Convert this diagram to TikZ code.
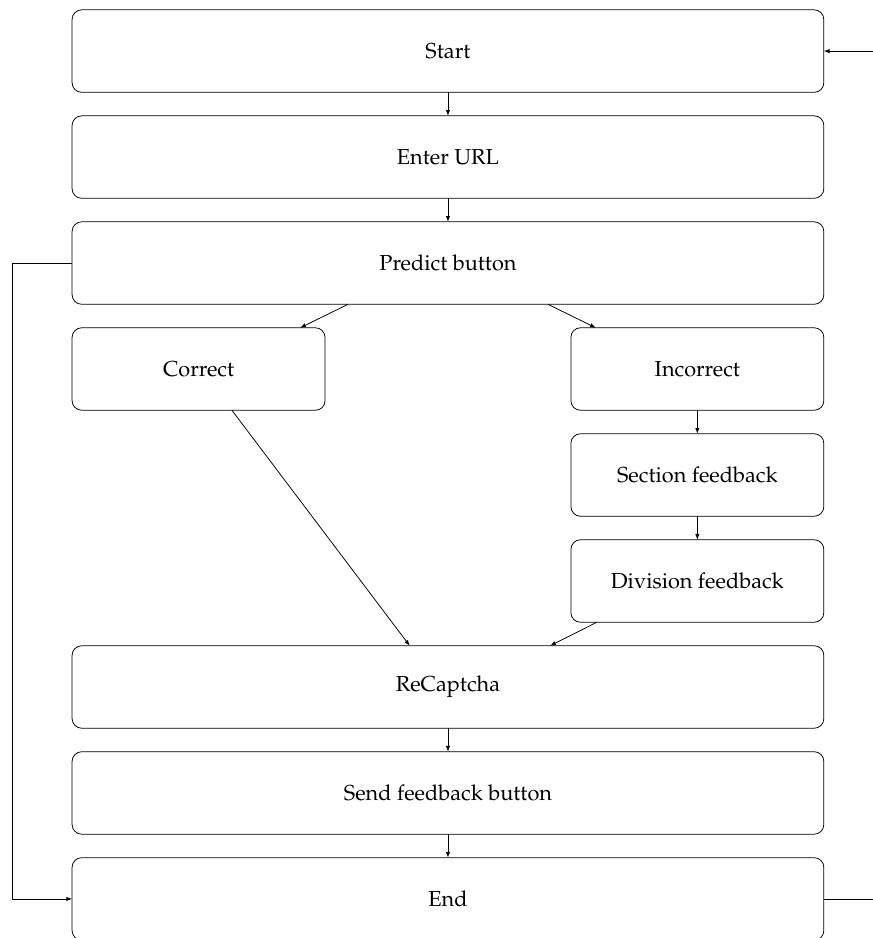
\documentclass[tikz,border=0pt]{standalone}
\usepackage[T1]{fontenc}
\usepackage{mathpazo}
\usepackage{tikz}
\usetikzlibrary{positioning}
\usetikzlibrary{calc}
\usetikzlibrary{arrows.meta}
\newcommand{\FLheight}{1.51cm}
\newcommand{\FLwidth}{13.76cm}
\tikzset{FL_wide/.style={
		rectangle,
		draw,
		rounded corners = 5pt,
		inner sep = 0pt,
		outer sep = 0pt,
		minimum width=\FLwidth, 
		minimum height=\FLheight,
		text centered,
		font=\fontsize{11.3pt}{13.6pt}\selectfont,
	}
}
\tikzset{FL_small/.style={
		FL_wide,
		minimum width=4.63cm,
	}
}
\tikzset{edge/.style={
		-{Latex[length=3pt]},
	},
}

\begin{document}
\begin{tikzpicture}[node distance = 0.43cm and 0.43cm]

\useasboundingbox (0,0) rectangle (15.98,-17.17);

% main column
\node[FL_wide] (start) at (8.2,-0.935) {Start};
\node[FL_wide, below = of start] (url) {Enter URL};
\node[FL_wide, below = of url] (predict) {Predict button};

% branches
\node[FL_small, below = of predict.south west, anchor = north west] (correct) {Correct};
\node[FL_small, below = of predict.south east, anchor = north east] (incorrect) {Incorrect};
\node[FL_small, below = of incorrect] (section) {Section feedback};
\node[FL_small, below = of section] (division) {Division feedback};

\coordinate (helpcaptcha) at (division.south-|predict.south);
\node[FL_wide, below = of helpcaptcha] (captcha) {ReCaptcha};
\node[FL_wide, below = of captcha] (send) {Send feedback button};
\node[FL_wide, below = of send] (end) {End};

% outside
\coordinate (startin) at (15.98,0|-start.east);
\coordinate (endout) at (15.98,0|-end.east);

\draw[edge] (startin) -- (start.east);
\draw[edge] (start) -- (url);
\draw[edge] (url) -- (predict);
\draw[edge] ($(predict.south)+(-1.83,0)$) -- ($(correct.north)+(1.86,0)$);
\draw[edge] ($(predict.south)+(1.83,0)$) -- ($(incorrect.north)+(-1.86,0)$);
\draw[edge] (incorrect) -- (section);
\draw[edge] (section) -- (division);
\draw[edge] ($(correct.south)+(0.61,0)$) -- ($(captcha.north)+(-0.7,0)$);
\draw[edge] ($(division.south)+(-1.84,0)$) -- ($(captcha.north)+(1.87,0)$);
\draw[edge] (captcha) -- (send);
\draw[edge] (send) -- (end);

% loop back
\draw[edge] (predict.west) -- ++(-1.1,0) |- (end.west);
\draw (end.east) -- (endout);

\end{tikzpicture}
\end{document}
